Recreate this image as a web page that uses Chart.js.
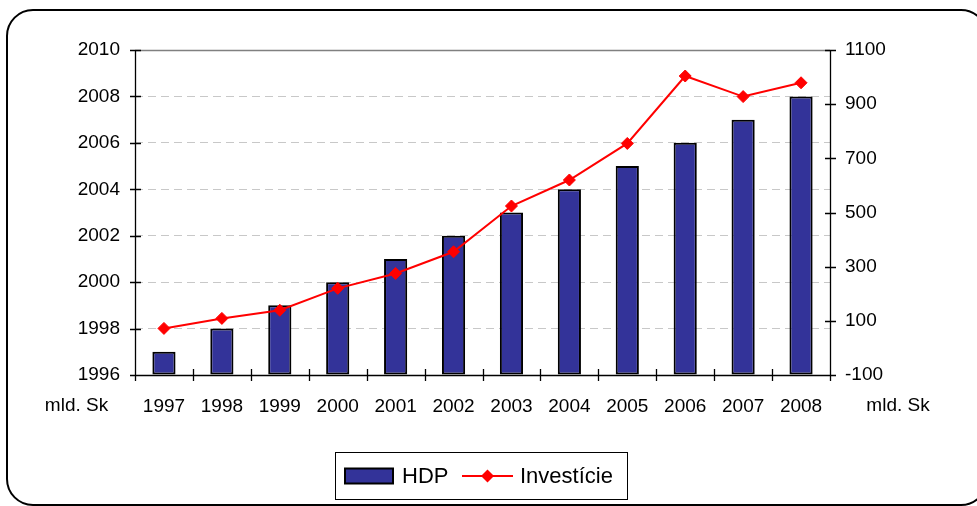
<!DOCTYPE html>
<html>
<head>
<meta charset="utf-8">
<script src="https://cdn.jsdelivr.net/npm/chart.js@4.4.1/dist/chart.umd.min.js"></script>
<style>
  html, body { margin: 0; padding: 0; background: #ffffff; }
  #wrap { width: 977px; height: 506px; position: relative; }
</style>
</head>
<body>
<div id="wrap"><canvas id="c" width="977" height="506"></canvas></div>
<script>
// ---- data ----
const years = ['1997','1998','1999','2000','2001','2002','2003','2004','2005','2006','2007','2008'];
const hdp = [1997, 1998, 1999, 2000, 2001, 2002, 2003, 2004, 2005, 2006, 2007, 2008];
const investicie = [72, 109, 139, 220, 275, 355, 524, 620, 755, 1004, 928, 979];
const seriesNames = ['HDP', 'Investície'];
const unitLabel = 'mld. Sk';
const leftAxis = { min: 1996, max: 2010, step: 2 };
const rightAxis = { min: -100, max: 1100, step: 200 };

const FONT = '"Liberation Sans", Arial, sans-serif';
const BAR_COLOR = '#333399';
const LINE_COLOR = '#ff0000';

const decorPlugin = {
  id: 'decor',
  beforeDraw(chart) {
    const ctx = chart.ctx;
    ctx.save();
    ctx.fillStyle = '#ffffff';
    ctx.fillRect(0, 0, chart.width, chart.height);
    // rounded outer frame
    const x = 7, y = 10, w = 980, h = 495, r = 26;
    ctx.beginPath();
    ctx.moveTo(x + r, y);
    ctx.lineTo(x + w - r, y);
    ctx.arcTo(x + w, y, x + w, y + r, r);
    ctx.lineTo(x + w, y + h - r);
    ctx.arcTo(x + w, y + h, x + w - r, y + h, r);
    ctx.lineTo(x + r, y + h);
    ctx.arcTo(x, y + h, x, y + h - r, r);
    ctx.lineTo(x, y + r);
    ctx.arcTo(x, y, x + r, y, r);
    ctx.closePath();
    ctx.lineWidth = 2;
    ctx.strokeStyle = '#000000';
    ctx.stroke();
    ctx.restore();
  },
  afterDatasetsDraw(chart) {
    const ctx = chart.ctx;
    const a = chart.chartArea;
    const xs = chart.scales.x, yl = chart.scales.y, yr = chart.scales.y1;
    ctx.save();
    // plot area top border (grey)
    ctx.strokeStyle = '#808080';
    ctx.lineWidth = 1.5;
    ctx.beginPath();
    ctx.moveTo(a.left, a.top + 0.5);
    ctx.lineTo(a.right, a.top + 0.5);
    ctx.stroke();
    // axes
    ctx.strokeStyle = '#000000';
    ctx.lineWidth = 1.3;
    ctx.beginPath();
    ctx.moveTo(a.left + 0.5, a.top); ctx.lineTo(a.left + 0.5, a.bottom);
    ctx.moveTo(a.right + 0.5, a.top); ctx.lineTo(a.right + 0.5, a.bottom);
    ctx.moveTo(a.left, a.bottom + 0.5); ctx.lineTo(a.right + 1, a.bottom + 0.5);
    // cross tick marks
    yl.ticks.forEach((t, i) => {
      const py = Math.round(yl.getPixelForTick(i)) + 0.5;
      ctx.moveTo(a.left - 5, py); ctx.lineTo(a.left + 6, py);
    });
    yr.ticks.forEach((t, i) => {
      const py = Math.round(yr.getPixelForTick(i)) + 0.5;
      ctx.moveTo(a.right - 5, py); ctx.lineTo(a.right + 6, py);
    });
    const n = xs.ticks.length;
    for (let i = 0; i <= n; i++) {
      const px = Math.round(xs.getPixelForValue(i - 0.5)) + 0.5;
      ctx.moveTo(px, a.bottom - 6); ctx.lineTo(px, a.bottom + 6);
    }
    ctx.stroke();
    ctx.restore();
  },
  afterDraw(chart) {
    const ctx = chart.ctx;
    const a = chart.chartArea;
    ctx.save();
    // unit labels
    ctx.fillStyle = '#000000';
    ctx.font = '19px ' + FONT;
    ctx.textBaseline = 'middle';
    ctx.textAlign = 'center';
    ctx.fillText(unitLabel, 76.5, 406);
    ctx.fillText(unitLabel, a.right + 68, 406);

    // legend
    const lx = 335, ly = 452, lw = 292, lh = 47;
    ctx.lineWidth = 1;
    ctx.strokeStyle = '#000000';
    ctx.strokeRect(lx + 0.5, ly + 0.5, lw, lh);
    const cy = ly + lh / 2 + 0.5;
    const ds0 = chart.data.datasets.find(d => d.type === 'bar');
    const ds1 = chart.data.datasets.find(d => d.type === 'line');
    // bar swatch
    ctx.fillStyle = ds0.backgroundColor;
    ctx.fillRect(345, cy - 7.5, 48, 15);
    ctx.lineWidth = 2;
    ctx.strokeStyle = '#000000';
    ctx.strokeRect(345, cy - 7.5, 48, 15);
    ctx.fillStyle = '#000000';
    ctx.font = '22px ' + FONT;
    ctx.textAlign = 'left';
    ctx.textBaseline = 'middle';
    ctx.fillText(ds0.label, 402, cy + 1);
    // line swatch
    ctx.strokeStyle = ds1.borderColor;
    ctx.lineWidth = 2;
    ctx.beginPath();
    ctx.moveTo(462, cy); ctx.lineTo(513, cy);
    ctx.stroke();
    ctx.fillStyle = ds1.borderColor;
    ctx.beginPath();
    const dr = 6.5, dx = 487.5;
    ctx.moveTo(dx - dr, cy); ctx.lineTo(dx, cy - dr); ctx.lineTo(dx + dr, cy); ctx.lineTo(dx, cy + dr);
    ctx.closePath();
    ctx.fill();
    ctx.fillStyle = '#000000';
    ctx.fillText(ds1.label, 520, cy + 1);
    ctx.restore();
  }
};

const plainTick = (v) => String(v);

const chart = new Chart(document.getElementById('c'), {
  data: {
    labels: years,
    datasets: [
      {
        type: 'line',
        label: seriesNames[1],
        data: investicie,
        yAxisID: 'y1',
        borderColor: LINE_COLOR,
        backgroundColor: LINE_COLOR,
        borderWidth: 2,
        pointStyle: 'rectRot',
        pointRadius: 6,
        pointBorderWidth: 1,
        pointBackgroundColor: LINE_COLOR,
        pointBorderColor: LINE_COLOR,
        tension: 0,
        order: 0
      },
      {
        type: 'bar',
        label: seriesNames[0],
        data: hdp,
        yAxisID: 'y',
        backgroundColor: BAR_COLOR,
        borderColor: '#000000',
        borderWidth: 2,
        borderSkipped: false,
        barPercentage: 0.4,
        categoryPercentage: 1.0,
        base: leftAxis.min,
        order: 1
      }
    ]
  },
  options: {
    responsive: false,
    devicePixelRatio: 1,
    animation: false,
    layout: { padding: { top: 50, left: 0, right: 0, bottom: 0 } },
    plugins: {
      legend: { display: false },
      title: { display: false },
      tooltip: { enabled: false }
    },
    scales: {
      x: {
        type: 'category',
        offset: true,
        grid: { display: false, drawTicks: false },
        border: { display: false },
        ticks: { color: '#000000', font: { family: FONT, size: 19 }, padding: 20, maxRotation: 0, autoSkip: false },
        afterFit(s) { s.height = 131; }
      },
      y: {
        type: 'linear',
        position: 'left',
        min: leftAxis.min,
        max: leftAxis.max,
        ticks: { stepSize: leftAxis.step, color: '#000000', font: { family: FONT, size: 19 }, padding: 15, callback: plainTick },
        grid: {
          drawTicks: false,
          color: (c) => (c.tick && (c.tick.value === leftAxis.min || c.tick.value === leftAxis.max)) ? 'rgba(0,0,0,0)' : '#c8c8c8',
          lineWidth: 1
        },
        border: { display: false, dash: [8, 5] },
        afterFit(s) { s.width = 135; }
      },
      y1: {
        type: 'linear',
        position: 'right',
        min: rightAxis.min,
        max: rightAxis.max,
        ticks: { stepSize: rightAxis.step, color: '#000000', font: { family: FONT, size: 19 }, padding: 15, callback: plainTick },
        grid: { drawOnChartArea: false, drawTicks: false },
        border: { display: false },
        afterFit(s) { s.width = 147; }
      }
    }
  },
  plugins: [decorPlugin]
});
</script>
</body>
</html>
